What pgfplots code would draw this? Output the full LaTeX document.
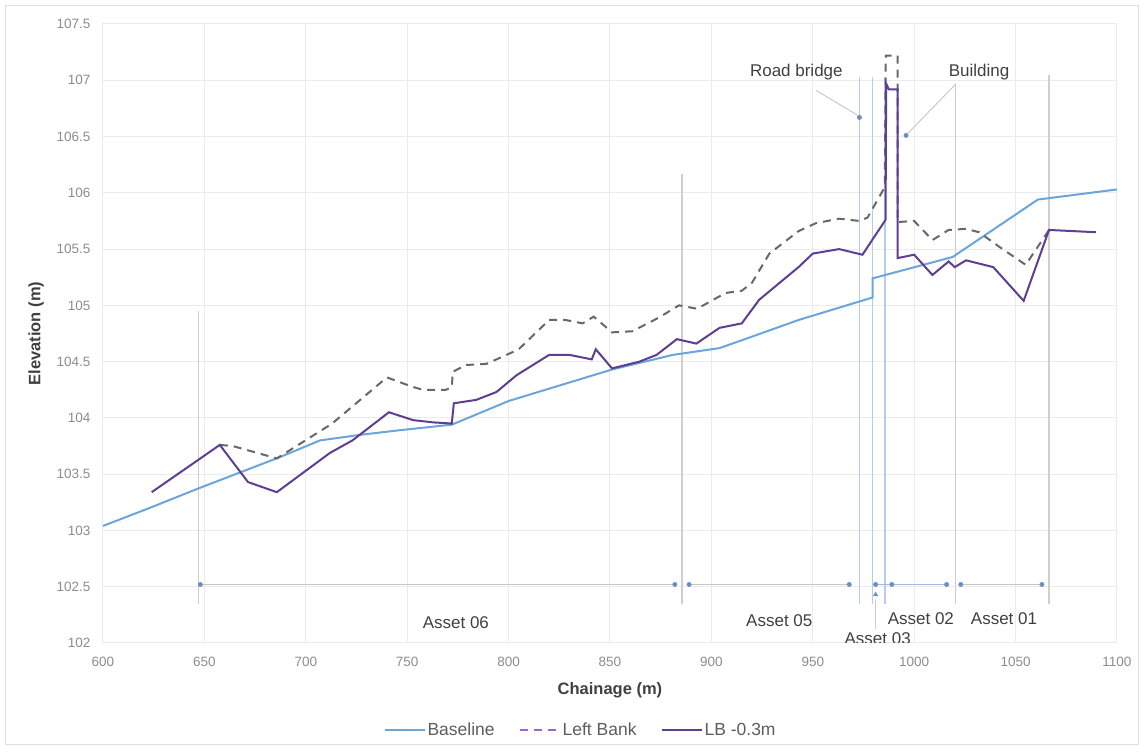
\documentclass[border=0pt]{standalone}
\usepackage{fontspec}
\setmainfont{Liberation Sans}
\usepackage{pgfplots}
\pgfplotsset{compat=1.18}
\definecolor{base}{HTML}{6AA5DC}
\definecolor{lbp}{HTML}{5E3E92}
\definecolor{lbdash}{HTML}{686868}
\definecolor{legdash}{HTML}{9B63D3}
\definecolor{gridc}{HTML}{EBEBEB}
\definecolor{vgray}{HTML}{CFCFCF}
\definecolor{vblue}{HTML}{B4CDEE}
\definecolor{mk}{HTML}{6B8DC4}
\definecolor{txt}{HTML}{404040}
\definecolor{tickc}{HTML}{8C8C8C}
\begin{document}
\begin{tikzpicture}
\begin{axis}[
  scale only axis, width=1014pt, height=619pt,
  xmin=600, xmax=1100, ymin=102, ymax=107.5,
  xtick={600,650,...,1100}, ytick={102,102.5,...,107.5},
  grid=major, grid style={gridc, line width=1pt},
  axis line style={gridc, line width=1pt},
  tick style={draw=none},
  ticklabel style={font=\fontsize{13.5}{15}\selectfont, text=tickc},
  xticklabel style={yshift=-11pt},
  yticklabel style={xshift=-9pt},
  /pgf/number format/assume math mode=true,
  /pgf/number format/1000 sep={},
  xlabel={Chainage (m)}, ylabel={Elevation (m)},
  xlabel style={font=\bfseries\fontsize{16.5}{18}\selectfont, text=txt, at={(axis description cs:0.5,-0.077)}, anchor=center},
  ylabel style={font=\bfseries\fontsize{16.5}{18}\selectfont, text=txt, at={(axis description cs:-0.066,0.5)}, anchor=center},
  legend style={at={(axis description cs:0.471,-0.1405)}, anchor=center, draw=none, fill=none,
    legend columns=3, font=\fontsize{17.5}{20}\selectfont, text=txt!85,
    /tikz/every even column/.append style={column sep=22pt}},
  legend image code/.code={\draw[#1] (0pt,0pt) -- (40pt,0pt);},
]
% ---- annotation verticals
\addplot[vgray, line width=1.5pt, forget plot] coordinates {(647,102.35) (647,104.95)};
\addplot[vgray, line width=1.5pt, forget plot] coordinates {(885.5,102.35) (885.5,106.17)};
\addplot[vgray, line width=1.5pt, forget plot] coordinates {(1020.5,102.35) (1020.5,106.97)};
\addplot[vgray, line width=1.5pt, forget plot] coordinates {(1066.5,102.35) (1066.5,107.05)};
\addplot[vblue, line width=1.5pt, forget plot] coordinates {(973,102.35) (973,107.03)};
\addplot[vblue, line width=1.5pt, forget plot] coordinates {(979.5,102.35) (979.5,107.03)};
\addplot[vblue, line width=1.5pt, forget plot] coordinates {(985.7,102.35) (985.7,107.03)};
% ---- asset dimension line
\addplot[gray!45, line width=1.2pt, forget plot] coordinates {(648,102.52) (882,102.52)};
\addplot[gray!45, line width=1.2pt, forget plot] coordinates {(889,102.52) (968,102.52)};
\addplot[mk!60, line width=1.2pt, forget plot] coordinates {(981,102.52) (1016,102.52)};
\addplot[gray!45, line width=1.2pt, forget plot] coordinates {(1023,102.52) (1062,102.52)};
\addplot[only marks, mark=*, mark size=2.2pt, mk, forget plot] coordinates {(648,102.52) (882,102.52) (889,102.52) (968,102.52) (981,102.52) (989,102.52) (1016,102.52) (1023,102.52) (1063,102.52)};
\addplot[gray!40, line width=1.2pt, forget plot] coordinates {(981,102.38) (981,102.12)};
\addplot[only marks, mark=triangle*, mark size=2.5pt, mk, forget plot] coordinates {(981,102.43)};
% ---- leader lines
\addplot[gray!45, line width=0.9pt, forget plot] coordinates {(951.7,106.91) (972,106.69)};
\addplot[gray!45, line width=0.9pt, forget plot] coordinates {(1020.7,106.97) (997,106.53)};
\addplot[only marks, mark=*, mark size=2.2pt, mk, forget plot] coordinates {(973,106.67) (996,106.51)};
% ---- data
\addplot[base, line width=2pt] coordinates {
(600,103.04) (623,103.2) (648,103.38) (687,103.65) (707,103.8) (727,103.85) (746,103.89)
(772,103.94) (800,104.15) (851,104.43) (881,104.56) (904,104.62) (915,104.69) (943,104.87)
(979.5,105.07) (979.5,105.24) (1019,105.43) (1061,105.94) (1100,106.03)};
\addlegendentry{Baseline}
\addplot[lbdash, line width=2pt, dash pattern=on 8pt off 6pt, forget plot] coordinates {
(657.6,103.76) (664,103.75) (685.7,103.64) (713,103.95) (740,104.36) (752,104.28) (757.6,104.25)
(769,104.25) (772,104.27) (772.5,104.41) (779,104.47) (789,104.48) (799,104.56) (805,104.61)
(820,104.87) (828,104.87) (836.5,104.84) (842,104.9) (851,104.76) (861,104.77) (874,104.89)
(884,105.0) (893,104.97) (907,105.11) (915,105.13) (920,105.2) (928.6,105.46) (943,105.66)
(951.5,105.73) (963,105.77) (973,105.75) (977,105.78) (985.5,106.05) (986,107.22) (991.8,107.22)
(991.8,105.74) (1000,105.75) (1009,105.58) (1017,105.67) (1025.6,105.68) (1032,105.65)
(1042,105.52) (1055,105.36) (1066.5,105.67)};
\addlegendimage{legdash, line width=2pt, dash pattern=on 8pt off 6pt}
\addlegendentry{Left Bank}
\addplot[lbp, line width=2pt] coordinates {
(624,103.34) (657.6,103.76) (671.5,103.43) (685.7,103.34) (712,103.69) (723,103.80) (741,104.05)
(753,103.98) (763,103.96) (772,103.95) (773,104.13) (784,104.16) (794,104.23) (804,104.38)
(820,104.56) (830,104.56) (841,104.52) (843,104.61) (851,104.44) (864.5,104.50) (873,104.56)
(883,104.70) (892.6,104.66) (904,104.8) (915,104.84) (923.6,105.05) (943,105.34) (950,105.46)
(963,105.5) (974.5,105.45) (985.9,105.76) (986.2,106.97) (987.5,106.92) (991.8,106.92)
(991.8,105.42) (1000,105.45) (1009,105.27) (1017,105.39) (1020,105.34) (1025.6,105.40)
(1039,105.34) (1054,105.04) (1066.5,105.67) (1089.6,105.65)};
\addlegendentry{LB -0.3m}
% ---- labels
\node[font=\fontsize{17}{19}\selectfont, text=txt] at (axis cs:774,102.18) {Asset 06};
\node[font=\fontsize{17}{19}\selectfont, text=txt] at (axis cs:933.5,102.2) {Asset 05};
\node[font=\fontsize{17}{19}\selectfont, text=txt] at (axis cs:982,102.04) {Asset 03};
\node[font=\fontsize{17}{19}\selectfont, text=txt] at (axis cs:1003.3,102.22) {Asset 02};
\node[font=\fontsize{17}{19}\selectfont, text=txt] at (axis cs:1044.3,102.22) {Asset 01};
\node[font=\fontsize{17}{19}\selectfont, text=txt] at (axis cs:941.9,107.07) {Road bridge};
\node[font=\fontsize{17}{19}\selectfont, text=txt] at (axis cs:1032,107.07) {Building};
\end{axis}
\pgfresetboundingbox
\path (-103pt,-109pt) rectangle (1041pt,643pt);
\draw[gray!25, line width=1pt] (-97pt,-102pt) rectangle (1035pt,637pt);
\end{tikzpicture}
\end{document}
